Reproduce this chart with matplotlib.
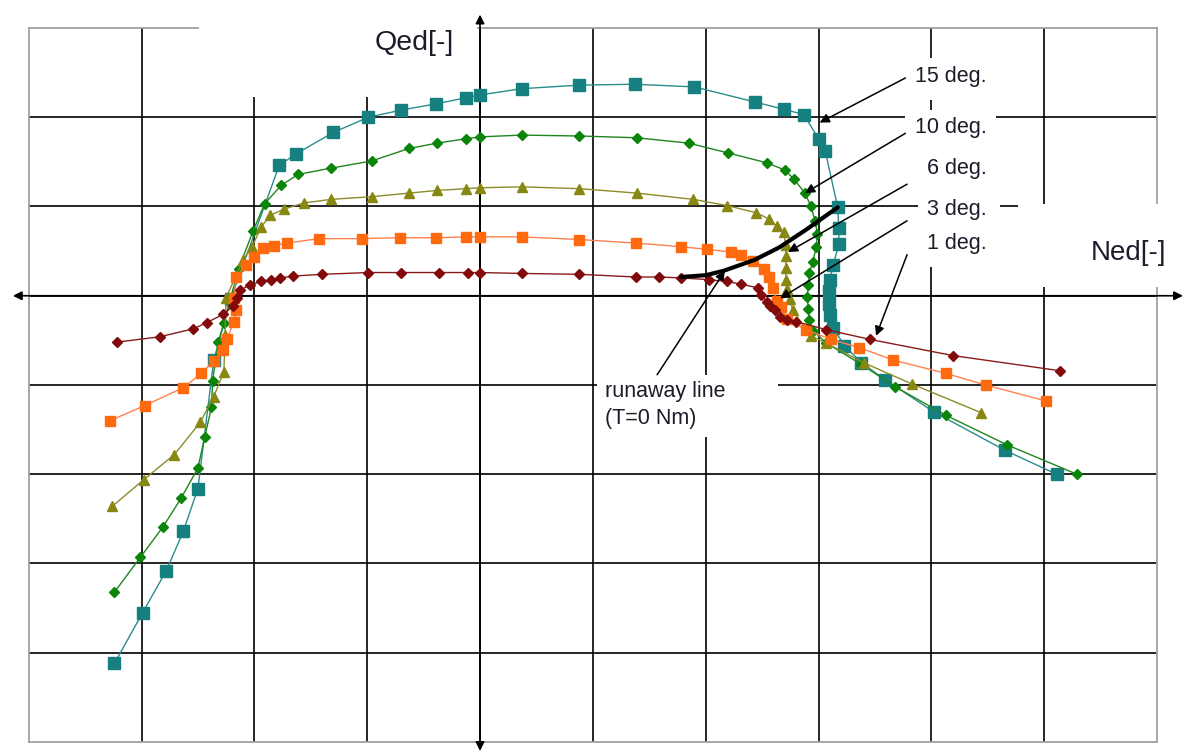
import matplotlib
matplotlib.use('Agg')
import matplotlib.pyplot as plt
from matplotlib.patches import Rectangle

# ---- data (grid units: Ned horizontal, Qed vertical) ----
n15 = [-3.24, -2.99, -2.78, -2.63, -2.50, -2.36, -2.21, -1.78, -1.63, -1.30, -0.99, -0.70, -0.39, -0.12, 0.00,
       0.37, 0.88, 1.37, 1.90, 2.44, 2.69, 2.87, 3.00, 3.06, 3.17, 3.18, 3.18, 3.13, 3.10, 3.09, 3.09, 3.10,
       3.13, 3.23, 3.38, 3.59, 4.02, 4.65, 5.11]
q15 = [-4.12, -3.55, -3.08, -2.64, -2.16, -0.72, -0.04, 1.46, 1.59, 1.83, 2.00, 2.08, 2.15, 2.22, 2.25,
       2.32, 2.36, 2.37, 2.34, 2.17, 2.09, 2.03, 1.76, 1.62, 0.99, 0.76, 0.58, 0.34, 0.18, 0.05, -0.09, -0.22,
       -0.36, -0.56, -0.75, -0.94, -1.30, -1.73, -2.00]

n10 = [-3.24, -3.01, -2.81, -2.65, -2.50, -2.44, -2.38, -2.37, -2.32, -2.27, -2.14, -2.01, -1.91, -1.76, -1.61,
       -1.32, -0.96, -0.63, -0.38, -0.12, 0.00, 0.37, 0.88, 1.39, 1.85, 2.20, 2.54, 2.70, 2.78, 2.88, 2.93,
       2.97, 2.99, 2.98, 2.95, 2.92, 2.91, 2.90, 2.91, 2.92, 2.95, 3.07, 3.38, 3.68, 4.13, 4.67, 5.29]
q10 = [-3.32, -2.93, -2.59, -2.27, -1.93, -1.58, -1.25, -0.95, -0.52, -0.30, 0.30, 0.73, 1.03, 1.24, 1.36,
       1.43, 1.51, 1.65, 1.71, 1.76, 1.78, 1.80, 1.79, 1.77, 1.71, 1.60, 1.49, 1.41, 1.31, 1.15, 1.01,
       0.84, 0.69, 0.55, 0.38, 0.26, 0.12, -0.01, -0.15, -0.27, -0.39, -0.53, -0.77, -1.02, -1.34, -1.67, -2.00]

n6 = [-3.26, -2.98, -2.71, -2.48, -2.36, -2.27, -2.26, -2.25, -2.10, -2.02, -1.94, -1.86, -1.74, -1.56, -1.32,
      -0.96, -0.63, -0.38, -0.12, 0.00, 0.37, 0.88, 1.39, 1.89, 2.19, 2.45, 2.56, 2.63, 2.69, 2.71, 2.71,
      2.71, 2.71, 2.72, 2.75, 2.77, 2.93, 3.07, 3.40, 3.83, 4.44]
q6 = [-2.36, -2.06, -1.78, -1.42, -1.13, -0.85, -0.44, -0.02, 0.40, 0.55, 0.77, 0.90, 0.97, 1.04, 1.08,
      1.11, 1.15, 1.18, 1.20, 1.21, 1.22, 1.20, 1.15, 1.08, 1.01, 0.93, 0.86, 0.78, 0.71, 0.57, 0.44,
      0.31, 0.18, 0.07, -0.04, -0.16, -0.45, -0.53, -0.75, -0.99, -1.31]

n3 = [-3.28, -2.97, -2.63, -2.47, -2.36, -2.28, -2.24, -2.18, -2.16, -2.18, -2.16, -2.07, -2.00, -1.92, -1.83,
      -1.71, -1.43, -1.05, -0.71, -0.39, -0.12, 0.00, 0.37, 0.88, 1.38, 1.78, 2.01, 2.22, 2.31, 2.42, 2.52,
      2.56, 2.60, 2.63, 2.67, 2.72, 2.89, 3.11, 3.36, 3.66, 4.13, 4.48, 5.02]
q3 = [-1.40, -1.23, -1.03, -0.87, -0.73, -0.61, -0.48, -0.29, -0.16, -0.02, 0.21, 0.35, 0.43, 0.53, 0.56,
      0.59, 0.64, 0.64, 0.65, 0.65, 0.66, 0.66, 0.66, 0.63, 0.59, 0.55, 0.52, 0.49, 0.46, 0.39, 0.30,
      0.21, 0.09, -0.06, -0.13, -0.26, -0.38, -0.49, -0.58, -0.72, -0.87, -1.00, -1.18]

n1 = [-3.22, -2.84, -2.54, -2.42, -2.28, -2.19, -2.15, -2.13, -2.04, -1.94, -1.85, -1.77, -1.66, -1.40, -0.99,
      -0.70, -0.36, -0.11, 0.00, 0.37, 0.88, 1.38, 1.59, 1.78, 2.03, 2.19, 2.31, 2.46, 2.49, 2.54, 2.57,
      2.61, 2.66, 2.72, 2.80, 3.07, 3.46, 4.19, 5.14]
q1 = [-0.52, -0.46, -0.37, -0.30, -0.21, -0.12, -0.03, 0.06, 0.12, 0.16, 0.18, 0.20, 0.22, 0.24, 0.26,
      0.26, 0.26, 0.26, 0.26, 0.25, 0.24, 0.21, 0.21, 0.20, 0.18, 0.16, 0.13, 0.09, 0.01, -0.07, -0.11,
      -0.16, -0.24, -0.27, -0.29, -0.38, -0.49, -0.67, -0.84]

n_run = [1.78, 2.00, 2.16, 2.43, 2.65, 2.89, 3.17]
q_run = [0.21, 0.23, 0.28, 0.40, 0.54, 0.74, 0.99]

labels = ['15 deg.', '10 deg.', '6 deg.', '3 deg.', '1 deg.']

# ---- figure ----
fig = plt.figure(figsize=(11.87, 7.53), dpi=100)
ax = fig.add_axes([0.02418, 0.01461, 0.95055, 0.94821])
ax.set_xlim(-4, 6)
ax.set_ylim(-5, 3)
ax.set_xticks(range(-3, 6))
ax.set_yticks(range(-4, 3))
ax.tick_params(length=0, labelbottom=False, labelleft=False)
ax.grid(True, color='black', lw=1.2)
ax.set_axisbelow(True)
for s in ax.spines.values():
    s.set_color('#A0A0A0')
    s.set_linewidth(1.3)

# series
ax.plot(n15, q15, color='#2A8C8C', lw=1.0, marker='s', ms=8.2, mfc='#15807F', mec='#15807F', zorder=5)
ax.plot(n10, q10, color='#1E861E', lw=1.0, marker='D', ms=5.0, mfc='#0A850A', mec='#0A850A', zorder=5)
ax.plot(n6, q6, color='#8C8C2A', lw=1.0, marker='^', ms=7.8, mfc='#878711', mec='#878711', zorder=5)
ax.plot(n3, q3, color='#FF8050', lw=1.0, marker='s', ms=7.2, mfc='#FF6A0E', mec='#FF6A0E', zorder=5)
ax.plot(n1, q1, color='#8A1A1A', lw=1.0, marker='D', ms=5.2, mfc='#820A0A', mec='#820A0A', zorder=5)
ax.plot(n_run, q_run, color='black', lw=3.0, solid_capstyle='round', zorder=6)

# white label boxes (cover grid lines as in the original)
boxes = [(-2.49, 2.23, 2.46, 1.2), (4.77, 0.10, 1.6, 0.93),
         (3.77, 2.196, 0.80, 0.47), (3.77, 1.636, 0.80, 0.448),
         (3.88, 1.165, 0.73, 0.471), (3.88, 0.740, 0.73, 0.425), (3.88, 0.325, 0.73, 0.415),
         (1.04, -1.58, 1.60, 0.69)]
for (x0, y0, w, h) in boxes:
    ax.add_patch(Rectangle((x0, y0), w, h, facecolor='white', edgecolor='none',
                           zorder=3, clip_on=False))

# axis arrows
ap = dict(arrowstyle='<|-|>', color='black', lw=1.2, mutation_scale=13, shrinkA=0, shrinkB=0)
ax.annotate('', xy=(-4.14, 0), xytext=(6.23, 0), arrowprops=ap, annotation_clip=False, zorder=4)
ax.annotate('', xy=(0, 3.15), xytext=(0, -5.10), arrowprops=ap, annotation_clip=False, zorder=4)

tc = '#1C1C2A'
fnt = 'Liberation Sans'
ax.text(-0.58, 2.83, 'Qed[-]', fontsize=20.5, family=fnt, color=tc, ha='center', va='center', zorder=8)
ax.text(5.75, 0.48, 'Ned[-]', fontsize=20, family=fnt, color=tc, ha='center', va='center', zorder=8)

label_y = [2.46, 1.89, 1.43, 0.97, 0.59]
tails = [(3.77, 2.44), (3.77, 1.82), (3.785, 1.25), (3.785, 0.84), (3.785, 0.46)]
heads = [(3.01, 1.94), (2.88, 1.15), (2.73, 0.49), (2.66, -0.03), (3.51, -0.45)]
aps = dict(arrowstyle='-|>', color='black', lw=1.1, mutation_scale=14, shrinkA=0, shrinkB=0)
for lab, ly, t, h in zip(labels, label_y, tails, heads):
    ax.text(4.49, ly, lab, fontsize=15.5, family=fnt, color=tc, ha='right', va='center', zorder=8)
    ax.annotate('', xy=h, xytext=t, arrowprops=aps, annotation_clip=False, zorder=7)

ax.text(1.11, -1.07, 'runaway line', fontsize=15.5, family=fnt, color=tc, ha='left', va='center', zorder=8)
ax.text(1.11, -1.37, '(T=0 Nm)', fontsize=15.5, family=fnt, color=tc, ha='left', va='center', zorder=8)
ax.annotate('', xy=(2.17, 0.28), xytext=(1.57, -0.885), arrowprops=aps, annotation_clip=False, zorder=7)

fig.savefig('out.png', dpi=100)
